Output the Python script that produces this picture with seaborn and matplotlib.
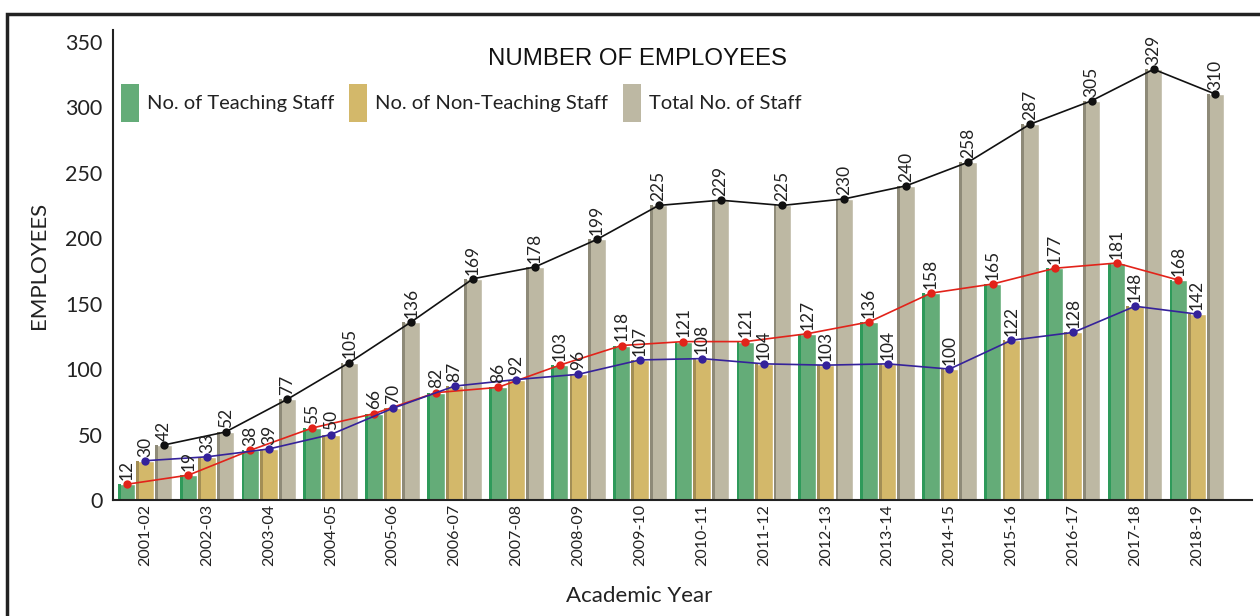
import numpy as np
import pandas as pd
import matplotlib
matplotlib.use("Agg")
import matplotlib.pyplot as plt
from matplotlib.patches import Rectangle, Patch
import seaborn as sns

years = ["2001-02", "2002-03", "2003-04", "2004-05", "2005-06", "2006-07",
         "2007-08", "2008-09", "2009-10", "2010-11", "2011-12", "2012-13",
         "2013-14", "2014-15", "2015-16", "2016-17", "2017-18", "2018-19"]
teaching = [12, 19, 38, 55, 66, 82, 86, 103, 118, 121, 121, 127, 136, 158, 165, 177, 181, 168]
non_teaching = [30, 33, 39, 50, 70, 87, 92, 96, 107, 108, 104, 103, 104, 100, 122, 128, 148, 142]
total = [42, 52, 77, 105, 136, 169, 178, 199, 225, 229, 225, 230, 240, 258, 287, 305, 329, 310]
series_names = ["No. of Teaching Staff", "No. of Non-Teaching Staff", "Total No. of Staff"]
y_ticks = [0, 50, 100, 150, 200, 250, 300, 350]

bar_colors = ["#64AC78", "#D3B86A", "#BDB8A3"]
edge_colors = ["#2E9A5A", "#A38E55", "#8E8A78"]
line_colors = ["#E2231A", "#35229A", "#111111"]

sns.set_style("white")
plt.rcParams["font.family"] = ["Lato", "DejaVu Sans"]

df = pd.DataFrame({
    "year": years * 3,
    "value": teaching + non_teaching + total,
    "series": [series_names[0]] * len(years) + [series_names[1]] * len(years) + [series_names[2]] * len(years),
})

fig = plt.figure(figsize=(12.6, 6.16), dpi=100)
ax = fig.add_axes([113 / 1260, 116 / 616, (1252 - 113) / 1260, (500 - 30) / 616])

sns.barplot(data=df, x="year", y="value", hue="series", order=years,
            hue_order=series_names, palette=bar_colors, width=0.9, gap=0.06,
            saturation=1, legend=False, ax=ax, errorbar=None)

# 3D-ish darker left strip on each bar
for i, p in enumerate(list(ax.patches)):
    s = i // len(years)
    ec = edge_colors[s]
    ax.add_patch(Rectangle((p.get_x(), 0), 0.045, p.get_height(), color=ec, lw=0, zorder=p.get_zorder() + 0.1))

offsets = [-0.3, 0.0, 0.3]
xs = np.arange(len(years))
for s, vals in enumerate([teaching, non_teaching, total]):
    sns.lineplot(x=xs + offsets[s], y=vals, color=line_colors[s], marker="o",
                 markersize=6, markeredgewidth=0, linewidth=1.2, ax=ax, zorder=5)
    for xi, v in zip(xs, vals):
        ax.annotate(str(v), (xi + offsets[s], v), xytext=(0, 3), textcoords="offset points",
                    rotation=90, ha="center", va="bottom", fontsize=12.5, color="#222222", zorder=6)

ax.set_xlim(-0.52, 17.89)
ax.set_ylim(0, 359)
ax.set_yticks(y_ticks)
ax.set_yticklabels([str(t) for t in y_ticks], fontsize=15.5, color="#222222")
ax.set_xticks(xs)
ax.set_xticklabels(years, rotation=90, fontsize=11.5, color="#222222")
ax.set_xticks(list(xs + 0.5), minor=True)
ax.tick_params(axis="x", which="major", length=0, pad=3)
ax.tick_params(axis="x", which="minor", direction="inout", length=7, width=1.2, color="#222222")
ax.tick_params(axis="y", direction="inout", length=7, width=1.2, color="#222222", pad=4)

for side in ["top", "right"]:
    ax.spines[side].set_visible(False)
for side in ["left", "bottom"]:
    ax.spines[side].set_color("#222222")
    ax.spines[side].set_linewidth(1.5)

ax.set_ylabel("EMPLOYEES", fontsize=16, labelpad=12, color="#222222")
ax.set_xlabel("Academic Year", fontsize=16, color="#222222")
ax.xaxis.set_label_coords((639 - 113) / 1139, -(596 - 500) / 470)
ax.xaxis.label.set_va("center")

fig.text(638 / 1260, 1 - 59 / 616, "NUMBER OF EMPLOYEES", ha="center", va="center",
         fontsize=17.3, family=["Liberation Sans", "DejaVu Sans"], color="#111111")

handles = [Patch(facecolor=c, edgecolor="none") for c in bar_colors]
leg = ax.legend(handles, series_names, loc="upper left", bbox_to_anchor=(121 / 1260, 1 - 84 / 616),
                bbox_transform=fig.transFigure, ncol=3, frameon=False, fontsize=14.5,
                handlelength=0.88, handleheight=2.5, handletextpad=0.4, columnspacing=0.75,
                borderpad=0, borderaxespad=0)
for t in leg.get_texts():
    t.set_color("#222222")

fig.patches.append(Rectangle((7 / 1260, -0.1), 1.2, 1 - 14 / 616 + 0.1, fill=False, lw=2.5,
                             edgecolor="#222222", transform=fig.transFigure, figure=fig))

fig.savefig("out.png", dpi=100)
